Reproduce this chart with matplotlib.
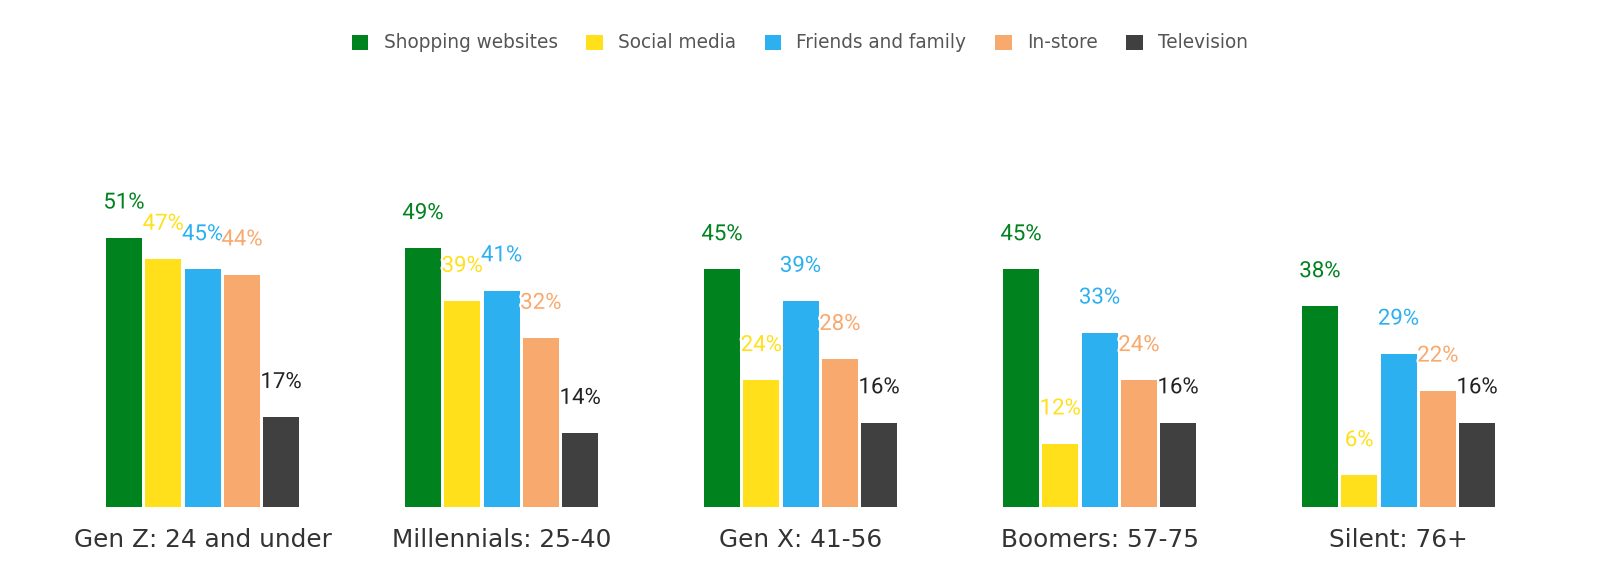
import numpy as np
import matplotlib.pyplot as plt
import matplotlib.patheffects as pe
from matplotlib.patches import Patch

plt.rcParams["font.family"] = ["DejaVu Sans"]

# Data
groups = ["Gen Z: 24 and under", "Millennials: 25-40", "Gen X: 41-56",
          "Boomers: 57-75", "Silent: 76+"]
series = ["Shopping websites", "Social media", "Friends and family",
          "In-store", "Television"]
shopping = [51, 49, 45, 45, 38]
social = [47, 39, 24, 12, 6]
friends = [45, 41, 39, 33, 29]
instore = [44, 32, 28, 24, 22]
television = [17, 14, 16, 16, 16]

values = [shopping, social, friends, instore, television]
colors = ["#00821e", "#ffe01b", "#2db0f0", "#f8a96e", "#404040"]
label_colors = ["#00821e", "#ffe01b", "#2db0f0", "#f8a96e", "#222222"]

W, H = 1600, 585
fig = plt.figure(figsize=(W / 100, H / 100), dpi=100)

base_px = 507          # baseline, px from top
px_per_pct = 5.28
ax = fig.add_axes([0, (H - base_px) / H, 1, base_px / H])

g0, gstep = 202.6, 299.0
ax.set_xlim(-g0 / gstep, (W - g0) / gstep)
ax.set_ylim(0, base_px / px_per_pct)

x = np.arange(len(groups))
bar_w = 36 / gstep
step = 39.3 / gstep

for i, (name, vals) in enumerate(zip(series, values)):
    pos = x + (i - 2) * step
    ax.bar(pos, vals, width=bar_w, color=colors[i], label=name, zorder=2)
    for xp, v in zip(pos, vals):
        ax.annotate(f"{v}%", (xp, v), xytext=(0, 25), textcoords="offset points",
                    ha="center", va="center", fontsize=16, family="Roboto",
                    color=label_colors[i], zorder=3,
                    path_effects=[pe.withStroke(linewidth=3, foreground="white")])

for s in ax.spines.values():
    s.set_visible(False)
ax.set_yticks([])
ax.set_xticks(x)
ax.set_xticklabels(groups, fontsize=17.8, color="#333333")
ax.tick_params(axis="x", length=0, pad=15)

handles = [Patch(facecolor=c, edgecolor="none") for c in colors]
fig.legend(handles, series, loc="center", bbox_to_anchor=(0.5, 1 - 43 / H),
           ncol=5, frameon=False, fontsize=13.35, labelcolor="#555555",
           handlelength=0.88, handleheight=0.88, handletextpad=0.83,
           columnspacing=1.55)

fig.savefig("out.png", dpi=100, facecolor="white")
